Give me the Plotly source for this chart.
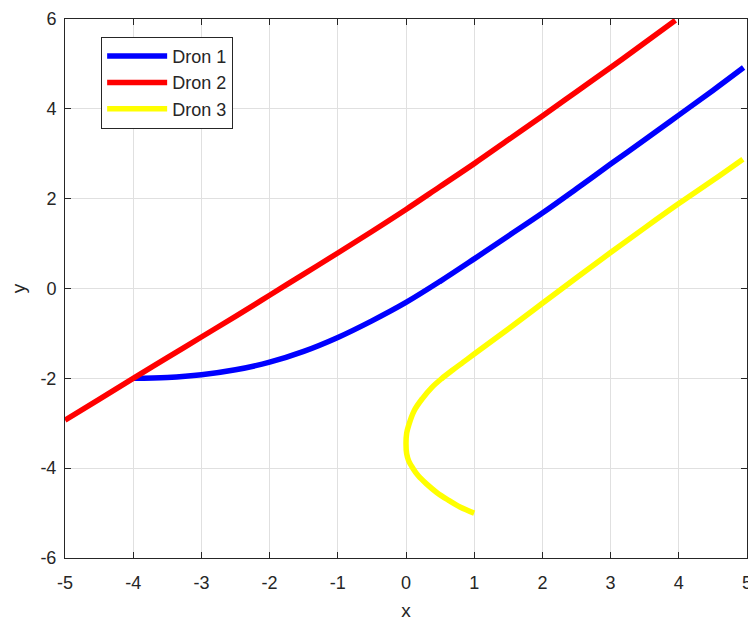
import plotly.graph_objects as go

# Data
dron1_x = [-4.0, -3.5, -3.0, -2.5, -2.0, -1.5, -1.0, -0.5, 0.0, 0.5, 1.0, 1.5, 2.0, 2.5, 3.0, 3.5, 4.0, 4.5, 4.95]
dron1_y = [-2.0, -1.98, -1.92, -1.81, -1.64, -1.40, -1.09, -0.72, -0.31, 0.16, 0.66, 1.17, 1.68, 2.22, 2.77, 3.31, 3.86, 4.41, 4.92]

dron2_x = [-5.0, -4.5, -4.0, -3.5, -3.0, -2.5, -2.0, -1.5, -1.0, -0.5, 0.0, 0.5, 1.0, 1.5, 2.0, 2.5, 3.0, 3.5, 3.95]
dron2_y = [-2.93, -2.47, -2.0, -1.54, -1.08, -0.62, -0.15, 0.32, 0.79, 1.27, 1.76, 2.27, 2.78, 3.31, 3.84, 4.38, 4.92, 5.47, 5.97]

dron3_x = [1.0, 0.8, 0.62, 0.45, 0.3, 0.18, 0.1, 0.04, 0.01, 0.0, 0.01, 0.04, 0.12, 0.24, 0.38, 0.52, 0.68, 0.84, 1.0, 1.5, 2.0, 2.5, 3.0, 3.5, 4.0, 4.5, 4.94]
dron3_y = [-5.0, -4.87, -4.71, -4.54, -4.35, -4.17, -4.0, -3.84, -3.68, -3.45, -3.22, -3.04, -2.72, -2.45, -2.2, -2.01, -1.82, -1.64, -1.46, -0.9, -0.33, 0.24, 0.8, 1.35, 1.89, 2.41, 2.88]

x_ticks = [-5, -4, -3, -2, -1, 0, 1, 2, 3, 4, 5]
y_ticks = [-6, -4, -2, 0, 2, 4, 6]

names = ["Dron 1", "Dron 2", "Dron 3"]
colors = ["#0000ff", "#ff0000", "#ffff00"]

TXT = "#262626"
FONT = "Liberation Sans, Arial, Helvetica, sans-serif"

fig = go.Figure()
for xs, ys, name, col in zip([dron1_x, dron2_x, dron3_x], [dron1_y, dron2_y, dron3_y], names, colors):
    fig.add_trace(go.Scatter(
        x=xs, y=ys, mode="lines", name=name,
        line=dict(color=col, width=5.5, shape="spline", smoothing=1.0),
    ))

axis_common = dict(
    showline=True, linecolor=TXT, linewidth=1, mirror="ticks",
    ticks="inside", ticklen=6, tickcolor=TXT, tickwidth=1,
    showgrid=True, gridcolor="#e0e0e0", gridwidth=1,
    zeroline=False, automargin=False,
    tickfont=dict(family=FONT, size=18, color=TXT),
)

fig.update_layout(
    width=748, height=613,
    margin=dict(l=57, r=9, t=11, b=63),
    paper_bgcolor="white", plot_bgcolor="white",
    font=dict(family=FONT, size=18, color=TXT),
    xaxis=dict(range=[-5, 5], tickvals=x_ticks, ticktext=[str(v) for v in x_ticks],
               ticklabelstandoff=8,
               title=dict(text="x", font=dict(family=FONT, size=19, color=TXT), standoff=14),
               **axis_common),
    yaxis=dict(range=[-6, 6], tickvals=y_ticks, ticktext=[str(v) for v in y_ticks],
               ticklabelstandoff=4,
               title=dict(text="y", font=dict(family=FONT, size=19, color=TXT), standoff=14),
               **axis_common),
    legend=dict(
        x=0.053, y=0.967, xanchor="left", yanchor="top",
        bgcolor="white", bordercolor=TXT, borderwidth=1,
        font=dict(family=FONT, size=18, color=TXT),
        tracegroupgap=0, itemwidth=60,
    ),
    showlegend=True,
)

fig.write_html("out.html")
